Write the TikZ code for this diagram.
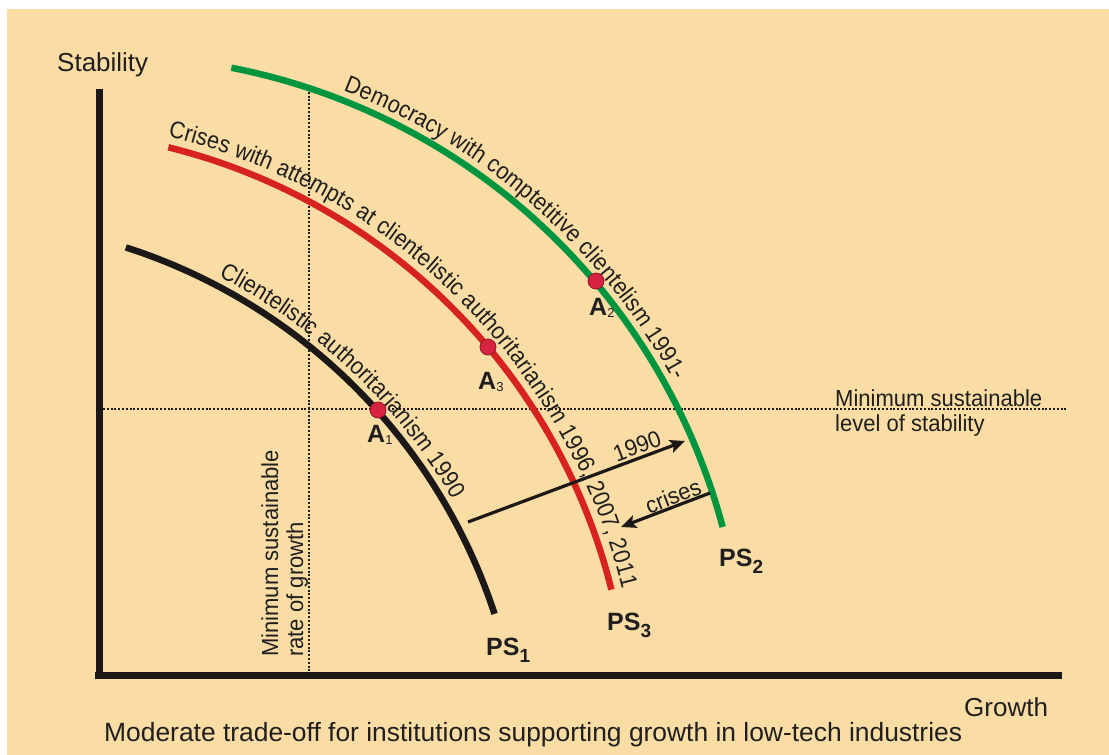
\documentclass[tikz,border=0pt]{standalone}
\usepackage{fontspec}
\setmainfont{Liberation Sans}
\newfontfamily\narrowsans[FakeStretch=0.9]{Liberation Sans}
\newfontfamily\midsans[FakeStretch=0.95]{Liberation Sans}
\usetikzlibrary{decorations.text, arrows.meta}
\definecolor{bg}{RGB}{249,221,164}
\definecolor{psgreen}{RGB}{0,150,64}
\definecolor{psred}{RGB}{215,35,30}
\definecolor{psblack}{RGB}{28,24,24}
\definecolor{dotfill}{RGB}{214,35,64}
\definecolor{dotline}{RGB}{150,20,40}
\definecolor{txt}{RGB}{32,30,30}
\newcommand{\myfs}[1]{\fontsize{#1}{#1}\selectfont}
\newcommand{\axisfont}{\fontsize{26}{29}\selectfont}
\newcommand{\capfont}{\fontsize{26.4}{29}\selectfont}
\newcommand{\smallfont}{\midsans\fontsize{23.2}{25}\selectfont}
\newcommand{\curvefont}{\narrowsans\fontsize{24}{26}\selectfont\color{txt}}
\newcommand{\Alab}[1]{{\myfs{25}\bfseries A}\raisebox{-2pt}{\myfs{13}#1}}
\newcommand{\PSlab}[1]{{\myfs{25}\bfseries PS}\raisebox{-7pt}{\myfs{19}\bfseries #1}}
\begin{document}
\begin{tikzpicture}[x=1pt,y=-1pt,
  axisline/.style={line width=7pt, draw=psblack},
  psline/.style={line width=6.5pt},
  guide/.style={line width=1.9pt, dash pattern=on 1.9pt off 1.9pt, draw=psblack},
  ptdot/.style={circle, minimum size=16pt, inner sep=0pt, fill=dotfill, draw=dotline, line width=0.8pt},
  lab/.style={inner sep=0pt, text=txt},
  arr/.style={line width=3.2pt, draw=psblack, -{Stealth[length=15pt,width=13pt,inset=3pt]}},
]
\useasboundingbox (0,0) rectangle (1109,755);
\fill[white] (0,0) rectangle (1109,755);
\fill[bg] (7,9) rectangle (1109,755);

% guide lines
\draw[guide] (309,88) -- (309,672);
\draw[guide] (103,409) -- (1068,409);

% axes
\draw[axisline] (99,89) -- (99,679);
\draw[axisline] (95,675.5) -- (1062,675.5);

% curves
\draw[psline, draw=psblack] plot[domain=72.2:18.15, samples=80] ({-49+572*cos(\x)},{792-572*sin(\x)});
\draw[psline, draw=psred] plot[domain=76.1:14.0, samples=80] ({22.5+607*cos(\x)},{736.5-607*sin(\x)});
\draw[psline, draw=psgreen] plot[domain=78.96:14.9, samples=80] ({110+634*cos(\x)},{690-634*sin(\x)});

% curve texts
\path[decorate, decoration={text along path, raise=9pt, text align={left indent=96pt},
  text={|\curvefont|Clientelistic authoritarianism 1990}}]
  plot[domain=72.2:10, samples=80] ({-49+572*cos(\x)},{792-572*sin(\x)});
\path[decorate, decoration={text along path, raise=10.5pt, text align={left indent=0pt},
  text={|\curvefont|Crises with attempts at clientelistic authoritarianism 1996, 2007, 2011}}]
  plot[domain=76.4:8, samples=80] ({22.5+607*cos(\x)},{736.5-607*sin(\x)});
\path[decorate, decoration={text along path, raise=9pt, text align={left indent=113pt},
  text={|\curvefont|Democracy with comptetitive clientelism 1991-}}]
  plot[domain=78.96:10, samples=80] ({110+634*cos(\x)},{690-634*sin(\x)});

% points
\node[ptdot] (a1) at (378,410) {};
\node[ptdot] (a3) at (488,347) {};
\node[ptdot] (a2) at (596,281) {};
\node[lab, anchor=base west] (a1lab) at (367,442) {\Alab{1}};
\node[lab, anchor=base west] (a3lab) at (478,389) {\Alab{3}};
\node[lab, anchor=base west] (a2lab) at (589,315) {\Alab{2}};

% curve names
\node[lab, anchor=base west] (ps1) at (486,655) {\PSlab{1}};
\node[lab, anchor=base west] (ps3) at (607,630) {\PSlab{3}};
\node[lab, anchor=base west] (ps2) at (719,566) {\PSlab{2}};

% arrows
\coordinate (s1) at (468,522);
\coordinate (e1) at (685,441);
\coordinate (s2) at (710,493);
\coordinate (e2) at (621,527);
\draw[arr] (s1) -- (e1);
\draw[arr] (s2) -- (e2);
\node[lab, rotate=20.6, font=\smallfont] (l1990) at (637,446) {1990};
\node[lab, rotate=21, font=\smallfont] (lcrises) at (673,496) {crises};

% axis labels
\node[lab, anchor=base west, font=\axisfont] (stab) at (57,71) {Stability};
\node[lab, anchor=base west, font=\axisfont] (grow) at (964,716) {Growth};
\node[lab, anchor=base west, font=\capfont] (cap) at (104,741) {Moderate trade-off for institutions supporting growth in low-tech industries};

% guide labels
\node[lab, anchor=north west, align=left, font=\smallfont] (minstab) at (835,389) {Minimum sustainable\\level of stability};
\node[lab, rotate=90, anchor=north west, align=left, font=\smallfont] (mingrow) at (261,657) {Minimum sustainable\\rate of growth};
\end{tikzpicture}
\end{document}
